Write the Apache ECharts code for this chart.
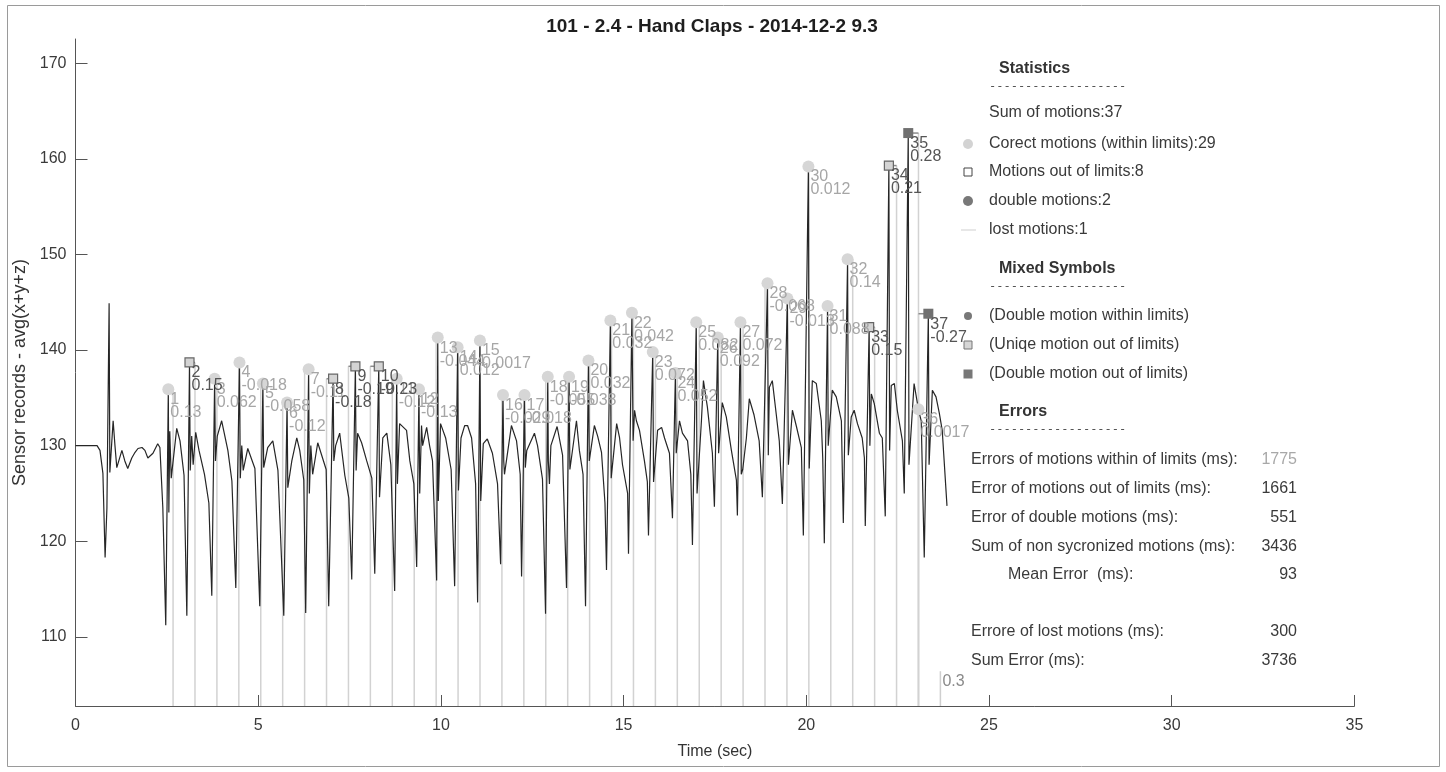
<!DOCTYPE html>
<html>
<head>
<meta charset="utf-8">
<script src="https://cdn.jsdelivr.net/npm/echarts@6/dist/echarts.min.js"></script>
<style>
html,body{margin:0;padding:0;background:#fff;}
#chart{width:1446px;height:772px;}
</style>
</head>
<body>
<div id="chart"></div>
<script>
// sensor record, [time (s), avg(x+y+z)]
var signal = [
[0,130.0],[0.59,130.0],[0.67,129.5],[0.75,127.1],[0.81,118.3],[0.86,123.5],[0.92,144.9],[0.94,127.2],[1.03,132.6],[1.08,130.0],[1.13,127.7],[1.27,129.5],[1.35,128.4],[1.43,127.6],[1.54,128.7],[1.63,129.3],[1.71,129.7],[1.82,129.8],[1.90,129.5],[1.98,128.7],[2.12,129.2],[2.25,130.2],[2.31,129.8],[2.39,123.5],[2.47,111.2],
[2.54,135.9],[2.555,123.0],[2.58,131.5],[2.62,126.6],[2.77,131.8],[2.86,130.5],[2.97,126.9],[3.047,112.2],
[3.12,138.7],[3.14,127.4],[3.18,131.0],[3.22,128.0],[3.29,131.4],[3.38,129.5],[3.53,127.0],[3.65,124.0],[3.73,114.3],
[3.808,137.0],[3.83,128.4],[3.88,131.0],[4.00,132.6],[4.17,129.5],[4.28,126.3],[4.387,115.1],
[4.488,138.7],[4.51,126.6],[4.55,130.0],[4.59,127.4],[4.715,129.7],[4.91,127.6],[5.043,113.2],
[5.128,136.5],[5.15,127.7],[5.26,129.8],[5.40,130.5],[5.54,127.4],[5.70,112.2],
[5.79,134.5],[5.81,125.6],[5.92,128.4],[6.056,130.8],[6.137,129.5],[6.247,126.4],[6.30,112.5],
[6.38,138.0],[6.40,125.0],[6.44,130.0],[6.49,127.0],[6.63,130.3],[6.86,127.5],[6.93,113.2],
[7.05,137.0],[7.07,128.4],[7.12,130.0],[7.23,131.3],[7.37,126.9],[7.48,124.5],[7.56,116.0],
[7.66,138.3],[7.68,127.4],[7.72,131.3],[7.83,130.3],[7.97,128.4],[8.11,126.6],[8.19,116.6],
[8.30,138.3],[8.32,124.6],[8.41,130.8],[8.52,131.3],[8.63,128.0],[8.735,114.8],
[8.79,137.0],[8.81,126.0],[8.87,132.3],[9.06,131.6],[9.15,128.4],[9.26,126.0],[9.337,117.3],
[9.40,135.9],[9.42,125.0],[9.47,132.1],[9.50,130.0],[9.61,131.9],[9.69,130.0],[9.77,128.4],[9.884,115.9],
[9.914,141.3],[9.93,124.2],[9.99,132.3],[10.13,130.8],[10.28,127.5],[10.376,115.3],
[10.458,140.3],[10.48,125.3],[10.55,130.8],[10.65,132.1],[10.73,132.1],[10.84,130.8],[10.95,126.0],[11.005,113.6],
[11.068,141.0],[11.09,124.2],[11.16,130.2],[11.27,130.7],[11.41,129.2],[11.55,126.0],[11.634,117.6],
[11.699,135.3],[11.72,128.4],[11.74,127.0],[11.93,132.1],[12.07,130.5],[12.17,127.0],[12.208,116.3],
[12.288,135.3],[12.31,127.7],[12.35,129.5],[12.56,131.3],[12.645,130.0],[12.78,126.5],[12.864,112.4],
[12.925,137.2],[12.94,128.4],[12.97,126.0],[13.01,130.0],[13.18,132.0],[13.33,129.0],[13.438,115.1],
[13.508,137.2],[13.53,127.5],[13.71,132.6],[13.79,129.5],[13.89,127.0],[13.958,113.2],
[14.038,138.9],[14.06,128.4],[14.20,132.1],[14.29,131.0],[14.395,129.3],[14.49,124.0],[14.532,117.0],
[14.638,143.1],[14.66,126.6],[14.81,132.3],[14.89,130.8],[14.97,128.0],[15.11,125.0],[15.134,118.7],
[15.228,143.9],[15.26,130.5],[15.30,133.7],[15.35,132.6],[15.435,131.6],[15.57,128.4],[15.65,126.2],[15.681,120.6],
[15.798,139.8],[15.82,126.2],[15.93,131.6],[16.04,131.9],[16.12,130.8],[16.255,129.2],[16.337,122.4],
[16.418,137.6],[16.44,129.2],[16.53,132.6],[16.61,131.3],[16.75,130.5],[16.84,127.0],[16.884,119.6],
[16.988,142.9],[17.01,125.0],[17.13,132.6],[17.185,136.8],[17.294,134.0],[17.43,129.2],[17.485,123.6],
[17.578,141.3],[17.60,129.2],[17.70,134.5],[17.81,133.0],[17.95,129.5],[18.087,126.4],[18.114,122.7],
[18.198,142.9],[18.22,127.0],[18.26,127.5],[18.36,130.8],[18.44,134.9],[18.57,133.2],[18.71,130.5],[18.798,124.6],
[18.938,147.0],[18.96,129.0],[18.99,136.1],[19.07,136.8],[19.18,133.2],[19.26,130.5],[19.345,123.9],
[19.483,145.4],[19.51,128.0],[19.62,133.7],[19.73,132.0],[19.864,129.8],[19.919,120.6],
[20.058,159.2],[20.08,127.6],[20.165,136.8],[20.274,136.5],[20.41,132.6],[20.45,128.7],[20.493,119.8],
[20.582,144.6],[20.60,130.0],[20.71,135.8],[20.82,135.1],[20.96,132.6],[21.013,121.9],
[21.13,149.5],[21.15,129.0],[21.23,133.0],[21.31,133.7],[21.40,132.3],[21.53,130.8],[21.59,128.7],[21.614,121.6],
[21.72,142.4],[21.74,130.0],[21.78,135.4],[21.86,134.4],[22.0,131.3],[22.08,130.8],[22.161,122.6],
[22.26,159.3],[22.28,129.5],[22.325,136.3],[22.41,136.5],[22.49,133.7],[22.63,130.5],[22.681,125.0],
[22.79,162.7],[22.81,128.0],[22.95,136.5],[23.068,133.8],[23.145,132.6],[23.228,118.3],
[23.34,143.8],[23.36,128.0],[23.45,135.8],[23.55,135.1],[23.64,133.4],[23.72,131.6],[23.85,123.7]
];

// detected motions 1..37
var detTimes = [2.54,3.12,3.808,4.488,5.128,5.79,6.38,7.05,7.66,8.30,8.79,9.40,9.914,10.458,11.068,11.699,12.288,12.925,13.508,14.038,14.638,15.228,15.798,16.418,16.988,17.578,18.198,18.938,19.483,20.058,20.582,21.13,21.72,22.26,22.79,23.068,23.34];
var peakValues = [135.9,138.7,137.0,138.7,136.5,134.5,138.0,137.0,138.3,138.3,137.0,135.9,141.3,140.3,141.0,135.3,135.3,137.2,137.2,138.9,143.1,143.9,139.8,137.6,142.9,141.3,142.9,147.0,145.4,159.2,144.6,149.5,142.4,159.3,162.7,133.8,143.8];
// metronome beat each motion belongs to
var refTimes = [2.67,3.27,3.87,4.47,5.07,5.67,6.27,6.87,7.47,8.07,8.67,9.27,9.87,10.47,11.07,11.67,12.27,12.87,13.47,14.07,14.67,15.27,15.87,16.47,17.07,17.67,18.27,18.87,19.47,20.07,20.67,21.27,21.87,22.47,23.07,23.07,23.07];
var errLabels = ['0.13','0.15','0.062','-0.018','-0.058','-0.12','-0.11','-0.18','-0.19','-0.23','-0.12','-0.13','-0.044','0.012','0.0017','-0.029','-0.018','-0.055','-0.038','0.032','0.032','0.042','0.072','0.052','0.082','0.092','0.072','-0.068','-0.013','0.012','0.088','0.14','0.15','0.21','0.28','0.0017','-0.27'];
// c: within limits, s: out of limits, d: double motion out of limits
var motionTypes = ['c','s','c','c','c','c','c','s','s','s','c','c','c','c','c','c','c','c','c','c','c','c','c','c','c','c','c','c','c','c','c','c','s','s','d','c','d'];

// lost motion
var lostTime = 23.67;
var lostTop = 106.4;
var lostLabel = '0.3';

var yTicks = [110,120,130,140,150,160,170];
var yMin = 102.76, yMax = 172.54;

var titleText = '101 - 2.4 - Hand Claps - 2014-12-2 9.3';
var headings = ['Statistics','Mixed Symbols','Errors'];
var statsRows = ['Sum of motions:37','Corect motions (within limits):29','Motions out of limits:8','double motions:2','lost motions:1'];
var mixedRows = ['(Double motion within limits)','(Uniqe motion out of limits)','(Double motion out of limits)'];
var errorNames = ['Errors of motions within of limits (ms):','Error of motions out of limits (ms):','Error of double motions (ms):','Sum of non sycronized motions (ms):','Mean Error  (ms):','Errore of lost motions (ms):','Sum Error (ms):'];
var errorValues = ['1775','1661','551','3436','93','300','3736'];

var FONT = '"Liberation Sans", Arial, Helvetica, sans-serif';
var myChart = echarts.init(document.getElementById('chart'));

// build stems and marker groups
var stems = [];
var correct = [], outside = [], doubles = [];
for (var i = 0; i < detTimes.length; i++) {
  stems.push([refTimes[i], detTimes[i], peakValues[i]]);
  var item = [detTimes[i], peakValues[i], String(i + 1), errLabels[i]];
  if (motionTypes[i] === 'c') correct.push(item);
  else if (motionTypes[i] === 's') outside.push(item);
  else doubles.push(item);
}

function markLabel(color) {
  return {
    show: true, position: 'inside', align: 'left', verticalAlign: 'top',
    offset: [2, 4], fontSize: 16, lineHeight: 13, color: color, fontFamily: FONT,
    formatter: function (p) { return p.data[2] + '\n' + p.data[3]; }
  };
}

// right hand side texts
var graphics = [];
function txt(t, x, y, opts) {
  opts = opts || {};
  graphics.push({
    type: 'text', z: 10,
    style: {
      text: t, x: x, y: y, fill: opts.fill || '#3a3a3a',
      font: (opts.bold ? 'bold ' : '') + (opts.size || 16) + 'px ' + (opts.family || FONT),
      align: opts.align || 'left', verticalAlign: 'middle'
    }
  });
}
txt(titleText, 712, 27, {bold: true, fill: '#1e1e1e', align: 'center', size: 19});
var headY = [69, 269, 412];
for (var h = 0; h < headings.length; h++) {
  txt(headings[h], 999, headY[h], {bold: true, fill: '#333'});
  txt('-------------------', 989, headY[h] + 18, {size: 12, family: '"DejaVu Sans Mono", monospace', fill: '#555'});
}
var statY = [113, 144, 172, 201, 230];
for (var s = 0; s < statsRows.length; s++) txt(statsRows[s], 989, statY[s]);
var mixY = [316, 345, 374];
for (var m = 0; m < mixedRows.length; m++) txt(mixedRows[m], 989, mixY[m]);
var errY = [460, 489, 518, 547, 575, 632, 661];
for (var e = 0; e < errorNames.length; e++) {
  txt(errorNames[e], e === 4 ? 1008 : 971, errY[e]);
  txt(errorValues[e], 1297, errY[e], {align: 'right', fill: e === 0 ? '#a8a8a8' : '#3a3a3a'});
}
// legend symbols
graphics.push(
  {type: 'circle', shape: {cx: 968, cy: 144, r: 5}, style: {fill: '#d3d3d3'}},
  {type: 'rect', shape: {x: 964, y: 168, width: 8, height: 8}, style: {fill: '#fff', stroke: '#444', lineWidth: 1}},
  {type: 'circle', shape: {cx: 968, cy: 201, r: 5}, style: {fill: '#787878'}},
  {type: 'line', shape: {x1: 961, y1: 230, x2: 976, y2: 230}, style: {stroke: '#cfcfcf', lineWidth: 1}},
  {type: 'circle', shape: {cx: 968, cy: 316, r: 4}, style: {fill: '#787878'}},
  {type: 'rect', shape: {x: 964, y: 341, width: 8, height: 8}, style: {fill: '#d6d6d6', stroke: '#777', lineWidth: 1}},
  {type: 'rect', shape: {x: 963.5, y: 369.5, width: 9, height: 9}, style: {fill: '#777'}},
  {type: 'rect', shape: {x: 7.5, y: 5.5, width: 1432, height: 761}, style: {fill: 'none', stroke: '#9a9a9a', lineWidth: 1}, z: -1}
);

var option = {
  animation: false,
  backgroundColor: '#fff',
  grid: {left: 75.5, right: 91.6, top: 39, bottom: 66},
  xAxis: {
    type: 'value', min: 0, max: 35, interval: 5,
    name: 'Time (sec)', nameLocation: 'middle', nameGap: 38,
    nameTextStyle: {fontSize: 16, color: '#333', fontFamily: FONT},
    axisLine: {lineStyle: {color: '#555', width: 1}},
    axisTick: {inside: true, length: 11, lineStyle: {color: '#555'}},
    axisLabel: {fontSize: 16, color: '#3a3a3a', margin: 12, fontFamily: FONT},
    splitLine: {show: false}
  },
  yAxis: {
    type: 'value', min: yMin, max: yMax,
    name: 'Sensor records - avg(x+y+z)', nameLocation: 'middle', nameGap: 46, nameRotate: 90,
    nameTextStyle: {fontSize: 18, color: '#333', fontFamily: FONT},
    axisLine: {show: true, lineStyle: {color: '#555', width: 1}},
    axisTick: {show: true, inside: true, length: 12, customValues: yTicks, lineStyle: {color: '#555'}},
    axisLabel: {customValues: yTicks, fontSize: 16, color: '#3a3a3a', margin: 9, fontFamily: FONT},
    splitLine: {show: false}
  },
  graphic: graphics,
  series: [
    {
      // reference beat stems with the offset to the detected motion
      type: 'custom',
      z: 1,
      silent: true,
      data: stems,
      encode: {x: [0, 1], y: 2},
      renderItem: function (params, api) {
        var r = api.value(0), d = api.value(1), v = api.value(2);
        var base = api.coord([r, yMin]);
        var top = api.coord([r, v]);
        var det = api.coord([d, v]);
        return {
          type: 'group',
          children: [
            {type: 'line', shape: {x1: base[0], y1: base[1], x2: top[0], y2: top[1]}, style: {stroke: '#d2d2d2', lineWidth: 1.5}},
            {type: 'line', shape: {x1: top[0], y1: top[1], x2: det[0], y2: det[1]}, style: {stroke: '#8c8c8c', lineWidth: 1.5}}
          ]
        };
      }
    },
    {
      // lost motion
      type: 'custom',
      z: 1,
      silent: true,
      data: [[lostTime, lostTop, lostLabel]],
      renderItem: function (params, api) {
        var base = api.coord([api.value(0), yMin]);
        var top = api.coord([api.value(0), api.value(1)]);
        return {
          type: 'group',
          children: [
            {type: 'line', shape: {x1: base[0], y1: base[1], x2: top[0], y2: top[1]}, style: {stroke: '#cfcfcf', lineWidth: 1.5}},
            {type: 'text', style: {text: lostLabel, x: top[0] + 2, y: top[1] + 10, fill: '#8a8a8a', font: '16px ' + FONT, verticalAlign: 'middle'}}
          ]
        };
      }
    },
    {
      type: 'line',
      z: 2,
      data: signal,
      showSymbol: false,
      silent: true,
      lineStyle: {color: '#262626', width: 1.2}
    },
    {
      type: 'scatter', z: 3, data: correct, symbol: 'circle', symbolSize: 12,
      itemStyle: {color: '#d6d6d6', opacity: 1},
      label: markLabel('#a6a6a6')
    },
    {
      type: 'scatter', z: 3, data: outside, symbol: 'rect', symbolSize: 9,
      itemStyle: {color: '#d4d4d4', borderColor: '#666', borderWidth: 1.2, opacity: 1},
      label: markLabel('#555')
    },
    {
      type: 'scatter', z: 3, data: doubles, symbol: 'rect', symbolSize: 10,
      itemStyle: {color: '#707070', opacity: 1},
      label: markLabel('#555')
    }
  ]
};
myChart.setOption(option);
</script>
</body>
</html>
